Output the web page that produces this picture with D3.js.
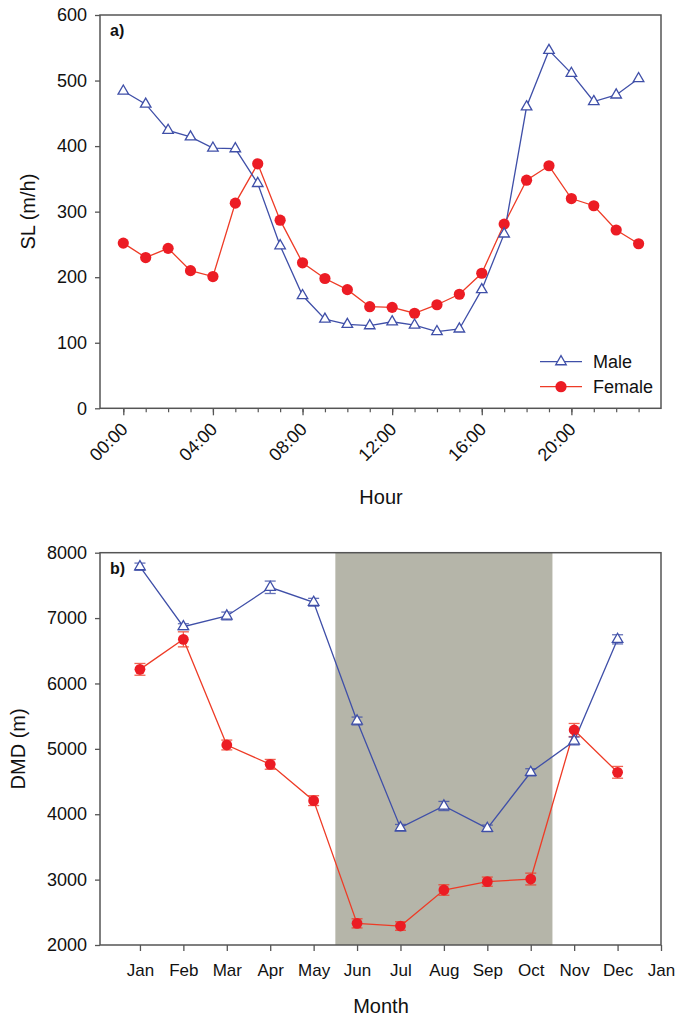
<!DOCTYPE html>
<html>
<head>
<meta charset="utf-8">
<script src="https://cdn.jsdelivr.net/npm/d3@7"></script>
<style>
  html, body { margin: 0; padding: 0; background: #fff; }
  svg { display: block; font-family: "Liberation Sans", Arial, sans-serif; }
</style>
</head>
<body>
<svg id="chart" width="681" height="1018"></svg>
<script>
// ---------- Data: panel a (hourly SL) ----------
const hours = [0,1,2,3,4,5,6,7,8,9,10,11,12,13,14,15,16,17,18,19,20,21,22,23];
const hourTickLabels = ["00:00","04:00","08:00","12:00","16:00","20:00"];
const hourTickValues = [0,4,8,12,16,20];
const maleSL = [484,464,424,414,397,396,343,248,172,136,128,126,132,127,117,121,181,266,460,546,511,468,478,503];
const femaleSL = [252,230,244,210,201,313,373,287,222,198,181,155,154,145,158,174,206,281,348,370,320,309,272,251];
const slTicks = [0,100,200,300,400,500,600];

// ---------- Data: panel b (monthly DMD) ----------
const months = [1,2,3,4,5,6,7,8,9,10,11,12];
const monthTickLabels = ["Jan","Feb","Mar","Apr","May","Jun","Jul","Aug","Sep","Oct","Nov","Dec","Jan"];
const monthTickValues = [1,2,3,4,5,6,7,8,9,10,11,12,13];
const maleDMD = [7786,6869,7032,7471,7242,5426,3794,4126,3784,4641,5120,6675];
const maleDMDerr = [55,45,60,95,60,60,50,70,50,55,60,70];
const femaleDMD = [6216,6675,5059,4763,4208,2331,2290,2841,2969,3009,5288,4641];
const femaleDMDerr = [90,115,75,75,75,70,65,80,70,90,100,90];
const shadeRange = [5.5, 10.5];
const dmdTicks = [2000,3000,4000,5000,6000,7000,8000];
const legendLabels = ["Male","Female"];

// ---------- Styles ----------
const BLUE = "#3f4fa8";
const RED_LINE = "#ee3b26";
const RED_FILL = "#ec1c24";
const FRAME = "#555";
const SHADE = "#b5b5a9";

const svg = d3.select("#chart");

function frame(g, x0, x1, y0, y1) {
  g.append("rect").attr("x", x0).attr("y", y0)
    .attr("width", x1 - x0).attr("height", y1 - y0)
    .attr("fill", "none").attr("stroke", FRAME).attr("stroke-width", 1.5);
}

function yAxis(g, y, ticks, x0) {
  const ax = g.append("g").attr("transform", `translate(${x0},0)`)
    .call(d3.axisLeft(y).tickValues(ticks).tickSize(5).tickPadding(8).tickFormat(d3.format("d")));
  ax.select(".domain").remove();
  ax.selectAll("line").attr("stroke", FRAME).attr("stroke-width", 1.3);
  ax.selectAll("text").attr("font-size", 18).attr("fill", "#111")
    .attr("font-family", "'Liberation Sans', Arial, sans-serif");
}

function triangle(sel, color) {
  sel.attr("d", d3.symbol(d3.symbolTriangle, 48))
    .attr("fill", "#fff").attr("stroke", color).attr("stroke-width", 1.3);
}

// ================= Panel a =================
{
  const L = 100, R = 661, T = 15, B = 408.3;
  const x = d3.scaleLinear().domain([-1.04, 24]).range([L, R]);
  const y = d3.scaleLinear().domain([0, 600]).range([B, T]);
  const g = svg.append("g");

  // x axis ticks
  const minor = g.append("g").attr("transform", `translate(0,${B})`)
    .call(d3.axisBottom(x).tickValues(hours).tickSize(4).tickFormat(""));
  minor.select(".domain").remove();
  minor.selectAll("line").attr("stroke", FRAME).attr("stroke-width", 1.2);
  const major = g.append("g").attr("transform", `translate(0,${B})`)
    .call(d3.axisBottom(x).tickValues(hourTickValues).tickSize(7)
      .tickFormat((d, i) => hourTickLabels[i]));
  major.select(".domain").remove();
  major.selectAll("line").attr("stroke", FRAME).attr("stroke-width", 1.3);
  major.selectAll("text")
    .attr("font-size", 18).attr("fill", "#111")
    .attr("font-family", "'Liberation Sans', Arial, sans-serif")
    .attr("text-anchor", "end")
    .attr("dy", 0).attr("y", 0)
    .attr("transform", "translate(5,22) rotate(-45)");

  yAxis(g, y, slTicks, L);

  // lines
  const lineM = d3.line().x((d, i) => x(hours[i])).y(d => y(d));
  g.append("path").datum(femaleSL).attr("d", lineM)
    .attr("fill", "none").attr("stroke", RED_LINE).attr("stroke-width", 1.3);
  g.append("path").datum(maleSL).attr("d", lineM)
    .attr("fill", "none").attr("stroke", BLUE).attr("stroke-width", 1.3);

  g.selectAll("circle.f").data(femaleSL).join("circle").attr("class", "f")
    .attr("cx", (d, i) => x(hours[i])).attr("cy", d => y(d)).attr("r", 5.6)
    .attr("fill", RED_FILL);
  g.selectAll("path.m").data(maleSL).join("path").attr("class", "m")
    .attr("transform", (d, i) => `translate(${x(hours[i])},${y(d)})`)
    .call(triangle, BLUE);

  frame(g, L, R, T, B);

  g.append("text").attr("x", 110).attr("y", 36).attr("font-size", 16)
    .attr("font-weight", "bold").attr("fill", "#111").text("a)");

  g.append("text").attr("transform", `translate(35,${(T + B) / 2}) rotate(-90)`)
    .attr("text-anchor", "middle").attr("font-size", 20).attr("fill", "#111")
    .text("SL (m/h)");
  g.append("text").attr("x", 381).attr("y", 504).attr("text-anchor", "middle")
    .attr("font-size", 20).attr("fill", "#111").text("Hour");

  // legend
  const lg = g.append("g");
  const ly = [361.7, 386.7];
  const lcol = [BLUE, RED_LINE];
  legendLabels.forEach((lab, i) => {
    lg.append("line").attr("x1", 540).attr("x2", 582).attr("y1", ly[i]).attr("y2", ly[i])
      .attr("stroke", lcol[i]).attr("stroke-width", 1.3);
    if (i === 0) {
      lg.append("path").attr("transform", `translate(561,${ly[i]})`).call(triangle, BLUE);
    } else {
      lg.append("circle").attr("cx", 561).attr("cy", ly[i]).attr("r", 5.6).attr("fill", RED_FILL);
    }
    lg.append("text").attr("x", 593).attr("y", ly[i] + 6.5).attr("font-size", 18)
      .attr("fill", "#111").text(lab);
  });
}

// ================= Panel b =================
{
  const L = 100, R = 661, T = 552.7, B = 945;
  const x = d3.scaleLinear().domain([0.08, 13]).range([L, R]);
  const y = d3.scaleLinear().domain([2000, 8000]).range([B, T]);
  const g = svg.append("g");

  g.append("rect").attr("x", x(shadeRange[0])).attr("y", T)
    .attr("width", x(shadeRange[1]) - x(shadeRange[0])).attr("height", B - T)
    .attr("fill", SHADE);

  const xa = g.append("g").attr("transform", `translate(0,${B})`)
    .call(d3.axisBottom(x).tickValues(monthTickValues).tickSize(6).tickPadding(13)
      .tickFormat((d, i) => monthTickLabels[i]));
  xa.select(".domain").remove();
  xa.selectAll("line").attr("stroke", FRAME).attr("stroke-width", 1.3);
  xa.selectAll("text").attr("font-size", 17).attr("fill", "#111")
    .attr("font-family", "'Liberation Sans', Arial, sans-serif");

  yAxis(g, y, dmdTicks, L);

  const line = d3.line().x((d, i) => x(months[i])).y(d => y(d));

  function errbars(vals, errs, color) {
    const eg = g.append("g").attr("stroke", color).attr("stroke-width", 1.3).attr("opacity", 0.8);
    vals.forEach((v, i) => {
      const cx = x(months[i]);
      const y1 = y(v + errs[i]), y2 = y(v - errs[i]);
      eg.append("line").attr("x1", cx).attr("x2", cx).attr("y1", y1).attr("y2", y2);
      eg.append("line").attr("x1", cx - 5.5).attr("x2", cx + 5.5).attr("y1", y1).attr("y2", y1);
      eg.append("line").attr("x1", cx - 5.5).attr("x2", cx + 5.5).attr("y1", y2).attr("y2", y2);
    });
  }

  g.append("path").datum(femaleDMD).attr("d", line)
    .attr("fill", "none").attr("stroke", RED_LINE).attr("stroke-width", 1.3);
  g.append("path").datum(maleDMD).attr("d", line)
    .attr("fill", "none").attr("stroke", BLUE).attr("stroke-width", 1.3);

  errbars(femaleDMD, femaleDMDerr, RED_LINE);
  g.selectAll("circle.f").data(femaleDMD).join("circle").attr("class", "f")
    .attr("cx", (d, i) => x(months[i])).attr("cy", d => y(d)).attr("r", 5.4)
    .attr("fill", RED_FILL);
  errbars(maleDMD, maleDMDerr, BLUE);
  g.selectAll("path.m").data(maleDMD).join("path").attr("class", "m")
    .attr("transform", (d, i) => `translate(${x(months[i])},${y(d)})`)
    .call(triangle, BLUE);

  frame(g, L, R, T, B);

  g.append("text").attr("x", 110).attr("y", 574).attr("font-size", 16)
    .attr("font-weight", "bold").attr("fill", "#111").text("b)");

  g.append("text").attr("transform", `translate(25,${(T + B) / 2}) rotate(-90)`)
    .attr("text-anchor", "middle").attr("font-size", 20).attr("fill", "#111")
    .text("DMD (m)");
  g.append("text").attr("x", 381).attr("y", 1013).attr("text-anchor", "middle")
    .attr("font-size", 20).attr("fill", "#111").text("Month");
}
</script>
</body>
</html>
